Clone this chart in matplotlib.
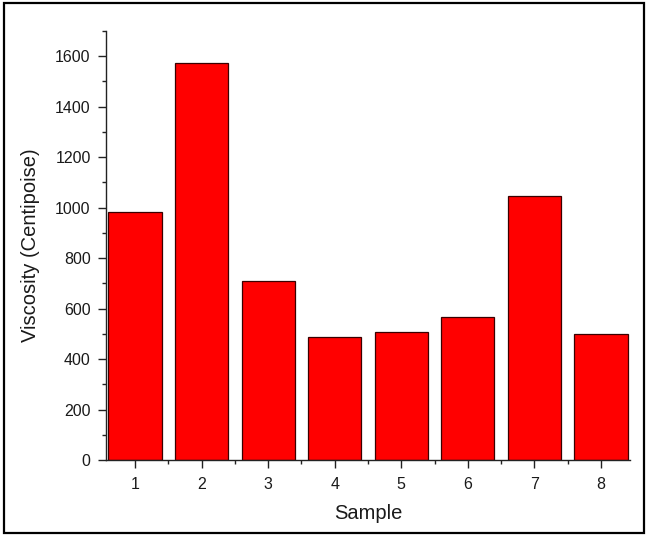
import numpy as np
import matplotlib
matplotlib.use("Agg")
import matplotlib.pyplot as plt
from matplotlib.patches import Rectangle
from matplotlib.ticker import MultipleLocator

plt.rcParams['font.family'] = ['Liberation Sans', 'DejaVu Sans']

# data
samples = [1, 2, 3, 4, 5, 6, 7, 8]
viscosity = [983, 1575, 709, 488, 506, 565, 1046, 500]

fig = plt.figure(figsize=(6.48, 5.36), dpi=100)
ax = fig.add_axes([0.1636, 0.1418, 0.8086, 0.8004])

ax.bar(samples, viscosity, width=0.8, color="#ff0000",
       edgecolor="#3a0000", linewidth=0.9)

ax.set_xlim(0.565, 8.435)
ax.set_ylim(0, 1700)
ax.set_xticks(samples)
ax.yaxis.set_major_locator(MultipleLocator(200))
ax.yaxis.set_minor_locator(MultipleLocator(100))
ax.xaxis.set_minor_locator(MultipleLocator(0.5))

for side in ["top", "right"]:
    ax.spines[side].set_visible(False)
for side in ["left", "bottom"]:
    ax.spines[side].set_linewidth(1.0)
    ax.spines[side].set_color("#222222")

ax.tick_params(which="major", direction="out", length=6, width=1,
               labelsize=11.5, color="#222222", labelcolor="#1a1a1a")
ax.tick_params(axis="x", which="major", pad=6)
ax.tick_params(axis="y", which="major", pad=5)
ax.tick_params(which="minor", direction="out", length=3, width=1,
               color="#222222")

ax.set_xlabel("Sample", fontsize=14.5, labelpad=9, color="#1a1a1a")
ax.set_ylabel("Viscosity (Centipoise)", fontsize=14.5, labelpad=11,
              color="#1a1a1a")

# outer frame round the whole picture
fig.patches.append(Rectangle((0.006, 0.006), 0.988, 0.988,
                             transform=fig.transFigure, fill=False,
                             edgecolor="black", linewidth=1.6))

fig.savefig("out.png", dpi=100)
